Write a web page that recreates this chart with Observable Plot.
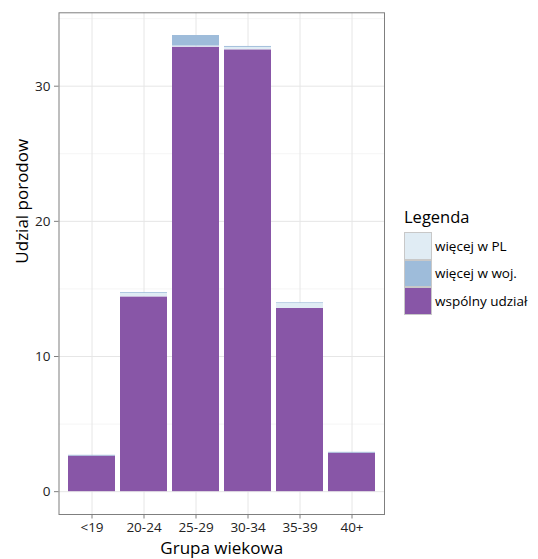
<!DOCTYPE html>
<html>
<head>
<meta charset="utf-8">
<script src="https://cdn.jsdelivr.net/npm/d3@7"></script>
<script src="https://cdn.jsdelivr.net/npm/@observablehq/plot@0.6"></script>
<style>
  body { margin: 0; background: #fff; }
  #wrap { position: relative; width: 538px; height: 559px; font-family: "Open Sans", sans-serif; }
  #legend { position: absolute; left: 404px; top: 206px; color: #000; }
  #legend .title { font-size: 16.5px; line-height: 22px; margin-bottom: 4px; }
  #legend .item { display: flex; align-items: center; height: 27.5px; }
  #legend .sw { width: 26px; height: 25.5px; border: 1px solid #c8c8c8; margin-right: 3px; box-sizing: content-box; }
  #legend .lab { font-size: 13.5px; }
</style>
</head>
<body>
<div id="wrap"></div>
<script>
const groups = ["<19", "20-24", "25-29", "30-34", "35-39", "40+"];
const series = ["wspólny udział", "więcej w PL", "więcej w woj."];
const wspolny = [2.63, 14.41, 32.89, 32.69, 13.56, 2.85];
const wiecejPL = [0, 0.26, 0.08, 0.18, 0.36, 0];
const wiecejWoj = [0.06, 0.06, 0.78, 0.07, 0.05, 0.06];
const colors = ["#8856A7", "#E0ECF4", "#9EBCDA"];
const legendOrder = ["więcej w PL", "więcej w woj.", "wspólny udział"];
const yTicks = [0, 10, 20, 30];
const yMinor = [5, 15, 25, 35];

const data = [];
groups.forEach((g, i) => {
  data.push({grupa: g, seria: series[0], v: wspolny[i]});
  data.push({grupa: g, seria: series[1], v: wiecejPL[i]});
  data.push({grupa: g, seria: series[2], v: wiecejWoj[i]});
});

const chart = Plot.plot({
  width: 538,
  height: 559,
  marginLeft: 58.5,
  marginRight: 154,
  marginTop: 12.3,
  marginBottom: 45,
  style: {fontFamily: "Open Sans, sans-serif", background: "#fff", overflow: "visible"},
  x: {domain: groups, paddingInner: 0.1, paddingOuter: 0.15, label: null},
  y: {domain: [-1.69, 35.43], label: null},
  color: {domain: series, range: colors},
  marks: [
    Plot.gridY(yMinor, {stroke: "#F5F5F5", strokeOpacity: 1, strokeWidth: 1}),
    Plot.gridY(yTicks, {stroke: "#E6E6E6", strokeOpacity: 1, strokeWidth: 1}),
    Plot.gridX(groups, {stroke: "#E6E6E6", strokeOpacity: 1, strokeWidth: 1}),
    Plot.barY(data, {x: "grupa", y: "v", fill: "seria", order: null}),
    Plot.frame({stroke: "#7f7f7f", strokeWidth: 1}),
    Plot.axisY(yTicks, {tickSize: 4.5, tickPadding: 4, fontSize: 13.5, stroke: "#7f7f7f", color: "#222", label: null}),
    Plot.axisX({tickSize: 4.5, tickPadding: 3, fontSize: 13.5, stroke: "#7f7f7f", color: "#222", label: null}),
    Plot.text(["Grupa wiekowa"], {frameAnchor: "bottom", dy: 34.5, fontSize: 17, fill: "#000", lineAnchor: "middle"}),
    Plot.text(["Udzial porodow"], {frameAnchor: "left", dx: -36, rotate: -90, fontSize: 17, fill: "#000", lineAnchor: "middle"})
  ]
});

const wrap = document.getElementById("wrap");
wrap.appendChild(chart);

const legend = document.createElement("div");
legend.id = "legend";
const t = document.createElement("div");
t.className = "title";
t.textContent = "Legenda";
legend.appendChild(t);
legendOrder.forEach(s => {
  const it = document.createElement("div");
  it.className = "item";
  const sw = document.createElement("div");
  sw.className = "sw";
  sw.style.background = colors[series.indexOf(s)];
  const lab = document.createElement("span");
  lab.className = "lab";
  lab.textContent = s;
  it.appendChild(sw);
  it.appendChild(lab);
  legend.appendChild(it);
});
wrap.appendChild(legend);
</script>
</body>
</html>
